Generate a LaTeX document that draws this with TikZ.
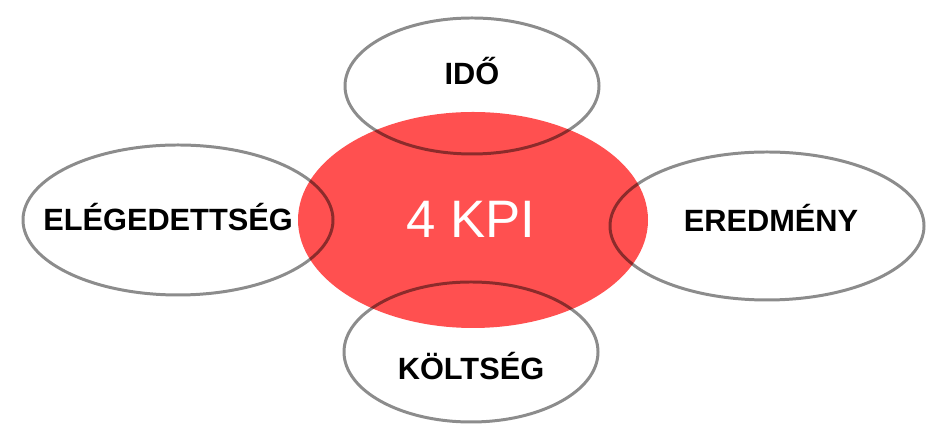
\documentclass[tikz,border=0pt]{standalone}
\usepackage{fontspec}
\setmainfont{Liberation Sans}
\usetikzlibrary{calc, positioning, shapes.geometric}
\definecolor{kpired}{HTML}{FF5050}

\begin{document}
\begin{tikzpicture}[
  outer/.style={draw=black, draw opacity=0.45, line width=1.7pt, ellipse, inner sep=0pt},
  lbl/.style={font=\fontsize{17.5}{20}\selectfont\bfseries, anchor=base, inner sep=0pt}]
  \useasboundingbox (0,0) rectangle (18.62,8.64);

  % Center
  \node[ellipse, fill=kpired, minimum width=7cm, minimum height=4.32cm] (kpi) at (9.46,4.24) {};

  % Outer ellipses
  \node[outer, minimum width=5.08cm, minimum height=2.72cm] (ido) at (9.44,6.92) {};
  \node[outer, minimum width=5.08cm, minimum height=2.80cm] (koltseg) at (9.42,1.60) {};
  \node[outer, minimum width=6.20cm, minimum height=3.00cm] (elegedett) at (3.56,4.24) {};
  \node[outer, minimum width=6.28cm, minimum height=2.96cm] (eredmeny) at (15.34,4.12) {};

  % Labels
  \node[lbl, text=white, font=\fontsize{30}{34}\selectfont] (kpilbl) at (9.42,3.88) {4 KPI};
  \node[lbl] (idolbl) at (9.44,6.94) {IDŐ};
  \node[lbl] (koltseglbl) at (9.42,1.04) {KÖLTSÉG};
  \node[lbl] (elegedettlbl) at (3.36,4.02) {ELÉGEDETTSÉG};
  \node[lbl] (eredmenylbl) at (15.42,4.00) {EREDMÉNY};

\end{tikzpicture}
\end{document}
